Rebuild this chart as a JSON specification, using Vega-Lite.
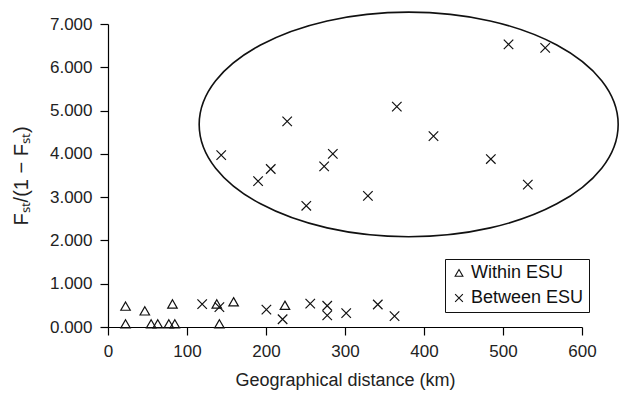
{
  "$schema": "https://vega.github.io/schema/vega-lite/v6.json",
  "autosize": "none",
  "width": 474,
  "height": 303,
  "padding": {"left": 108, "top": 24, "right": 38, "bottom": 71},
  "background": "white",
  "config": {
    "font": "Liberation Sans",
    "view": {"stroke": null},
    "axis": {
      "grid": false,
      "labelFlush": false,
      "domainColor": "black",
      "tickColor": "black",
      "domainWidth": 1.2,
      "tickWidth": 1.2,
      "tickSize": 8,
      "labelFontSize": 17,
      "labelColor": "#222",
      "titleFontSize": 18,
      "titleFontWeight": "normal",
      "titleColor": "#222"
    }
  },
  "datasets": {
    "ring": [{"x": 380.6, "y": 4.68}],
    "pts": [
      {"km": 22.2, "f": 0.48, "group": "Within ESU"},
      {"km": 22.2, "f": 0.07, "group": "Within ESU"},
      {"km": 46.6, "f": 0.37, "group": "Within ESU"},
      {"km": 54.6, "f": 0.07, "group": "Within ESU"},
      {"km": 63.0, "f": 0.07, "group": "Within ESU"},
      {"km": 77.0, "f": 0.07, "group": "Within ESU"},
      {"km": 84.6, "f": 0.07, "group": "Within ESU"},
      {"km": 81.6, "f": 0.53, "group": "Within ESU"},
      {"km": 137.7, "f": 0.53, "group": "Within ESU"},
      {"km": 141.0, "f": 0.07, "group": "Within ESU"},
      {"km": 159.0, "f": 0.58, "group": "Within ESU"},
      {"km": 224.0, "f": 0.5, "group": "Within ESU"},
      {"km": 119.2, "f": 0.53, "group": "Between ESU"},
      {"km": 141.0, "f": 0.46, "group": "Between ESU"},
      {"km": 200.5, "f": 0.4, "group": "Between ESU"},
      {"km": 221.0, "f": 0.18, "group": "Between ESU"},
      {"km": 256.0, "f": 0.54, "group": "Between ESU"},
      {"km": 277.5, "f": 0.49, "group": "Between ESU"},
      {"km": 277.5, "f": 0.27, "group": "Between ESU"},
      {"km": 301.5, "f": 0.32, "group": "Between ESU"},
      {"km": 341.5, "f": 0.52, "group": "Between ESU"},
      {"km": 362.7, "f": 0.25, "group": "Between ESU"},
      {"km": 143.3, "f": 3.97, "group": "Between ESU"},
      {"km": 226.8, "f": 4.75, "group": "Between ESU"},
      {"km": 206.0, "f": 3.65, "group": "Between ESU"},
      {"km": 190.0, "f": 3.37, "group": "Between ESU"},
      {"km": 251.0, "f": 2.8, "group": "Between ESU"},
      {"km": 273.6, "f": 3.71, "group": "Between ESU"},
      {"km": 284.6, "f": 4.0, "group": "Between ESU"},
      {"km": 329.0, "f": 3.03, "group": "Between ESU"},
      {"km": 365.6, "f": 5.09, "group": "Between ESU"},
      {"km": 412.0, "f": 4.41, "group": "Between ESU"},
      {"km": 484.6, "f": 3.88, "group": "Between ESU"},
      {"km": 531.4, "f": 3.29, "group": "Between ESU"},
      {"km": 507.0, "f": 6.53, "group": "Between ESU"},
      {"km": 553.4, "f": 6.45, "group": "Between ESU"}
    ]
  },
  "layer": [
    {
      "data": {"name": "ring"},
      "mark": {
        "type": "point",
        "shape": "M -1 0 A 1 0.536 0 1 1 1 0 A 1 0.536 0 1 1 -1 0 Z",
        "size": 175561,
        "filled": false,
        "stroke": "#111",
        "strokeWidth": 1.6,
        "opacity": 1
      },
      "encoding": {
        "x": {"field": "x", "type": "quantitative", "scale": {"domain": [0, 600]}},
        "y": {"field": "y", "type": "quantitative", "scale": {"domain": [0, 7]}}
      }
    },
    {
      "data": {"name": "pts"},
      "mark": {"type": "point", "filled": false, "size": 90, "strokeWidth": 1.2, "opacity": 1, "color": "#111"},
      "encoding": {
        "x": {
          "field": "km", "type": "quantitative",
          "scale": {"domain": [0, 600], "nice": false, "zero": true},
          "axis": {"values": [0, 100, 200, 300, 400, 500, 600], "labelPadding": 8, "title": "Geographical distance (km)", "titlePadding": 12}
        },
        "y": {
          "field": "f", "type": "quantitative",
          "scale": {"domain": [0, 7], "nice": false},
          "axis": {"values": [0, 1, 2, 3, 4, 5, 6, 7], "format": ".3f", "labelPadding": 8, "title": "Fₛₜ/(1 − Fₛₜ)", "titleFontSize": 20, "titlePadding": 18}
        },
        "shape": {
          "field": "group", "type": "nominal",
          "scale": {
            "domain": ["Within ESU", "Between ESU"],
            "range": ["M 0 -0.9 L 1 0.85 L -1 0.85 Z", "M -1 -1 L 1 1 M -1 1 L 1 -1"]
          },
          "legend": {
            "title": null,
            "orient": "none",
            "legendX": 337,
            "legendY": 235,
            "strokeColor": "#111",
            "padding": 5,
            "labelFontSize": 18,
            "labelColor": "#111",
            "symbolSize": 60,
            "symbolStrokeColor": "#111",
            "symbolStrokeWidth": 1.1,
            "symbolFillColor": "transparent",
            "rowPadding": 7,
            "labelOffset": 3
          }
        }
      }
    }
  ]
}
